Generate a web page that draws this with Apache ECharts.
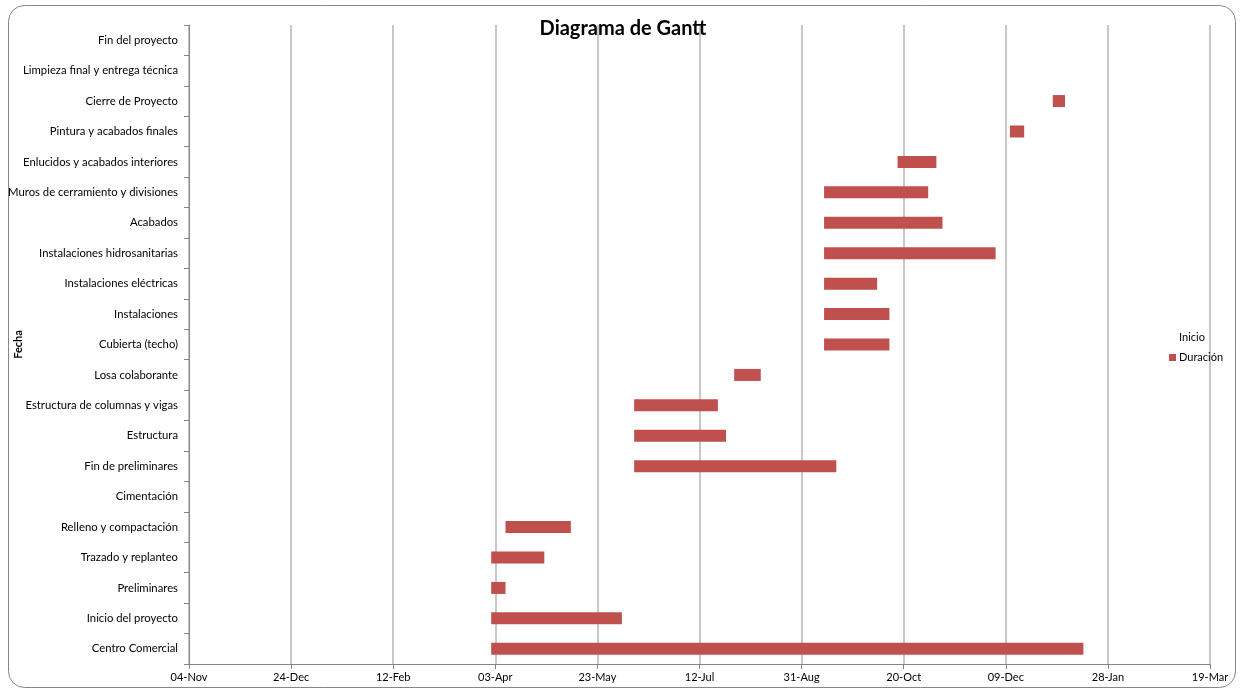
<!DOCTYPE html>
<html>
<head>
<meta charset="utf-8">
<title>Diagrama de Gantt</title>
<script src="https://cdn.jsdelivr.net/npm/echarts@6/dist/echarts.min.js"></script>
<style>
  html, body { margin: 0; padding: 0; background: #fff; }
  #chart { width: 1243px; height: 689px; }
</style>
</head>
<body>
<div id="chart"></div>
<script>
// Tasks, listed from the bottom row of the chart to the top row
const tasks = [
  'Centro Comercial',
  'Inicio del proyecto',
  'Preliminares',
  'Trazado y replanteo',
  'Relleno y compactación',
  'Cimentación',
  'Fin de preliminares',
  'Estructura',
  'Estructura de columnas y vigas',
  'Losa colaborante',
  'Cubierta (techo)',
  'Instalaciones',
  'Instalaciones eléctricas',
  'Instalaciones hidrosanitarias',
  'Acabados',
  'Muros de cerramiento y divisiones',
  'Enlucidos y acabados interiores',
  'Pintura y acabados finales',
  'Cierre de Proyecto',
  'Limpieza final y entrega técnica',
  'Fin del proyecto'
];

// Start date of each task (null = not scheduled)
const startDates = [
  '2014-04-01',
  '2014-04-01',
  '2014-04-01',
  '2014-04-01',
  '2014-04-08',
  null,
  '2014-06-10',
  '2014-06-10',
  '2014-06-10',
  '2014-07-29',
  '2014-09-11',
  '2014-09-11',
  '2014-09-11',
  '2014-09-11',
  '2014-09-11',
  '2014-09-11',
  '2014-10-17',
  '2014-12-11',
  '2015-01-01',
  null,
  null
];

// Duration of each task, in days
const durations = [
  290, 64, 7, 26, 32, null, 99, 45, 41, 13,
  32, 32, 26, 84, 58, 51, 19, 7, 6, null, null
];

// Date axis: origin and tick labels every 50 days
const axisOrigin = '2013-11-04';
const tickStep = 50;
const tickLabels = [
  '04-Nov', '24-Dec', '12-Feb', '03-Apr', '23-May', '12-Jul',
  '31-Aug', '20-Oct', '09-Dec', '28-Jan', '19-Mar'
];

const DAY = 86400000;
function toDays(iso) {
  const [y, m, d] = iso.split('-').map(Number);
  const [y0, m0, d0] = axisOrigin.split('-').map(Number);
  return Math.round((Date.UTC(y, m - 1, d) - Date.UTC(y0, m0 - 1, d0)) / DAY);
}

const startOffsets = startDates.map(s => (s === null ? null : toDays(s)));

const font = 'Lato, "Open Sans", "DejaVu Sans", sans-serif';
const chart = echarts.init(document.getElementById('chart'), null, { renderer: 'canvas' });

chart.setOption({
  animation: false,
  backgroundColor: '#ffffff',
  textStyle: { fontFamily: font },
  title: {
    text: 'Diagrama de Gantt',
    left: 618,
    top: 14,
    textAlign: 'center',
    textStyle: { fontFamily: font, fontSize: 20, fontWeight: 'bold', color: '#000' }
  },
  graphic: [{
    type: 'rect',
    shape: { x: 8.5, y: 5.5, width: 1227, height: 682, r: 16 },
    style: { fill: 'none', stroke: '#868686', lineWidth: 1 },
    silent: true,
    z: -1
  }],
  legend: {
    orient: 'vertical',
    left: 1164,
    top: 327,
    itemWidth: 7,
    itemHeight: 7,
    itemGap: 9,
    icon: 'rect',
    textStyle: { fontFamily: font, fontSize: 11, color: '#000', padding: [0, 0, 0, -2] },
    data: ['Inicio', 'Duración']
  },
  grid: { left: 189, right: 33, top: 25, bottom: 25, outerBoundsMode: 'none', containLabel: false },
  xAxis: {
    type: 'value',
    min: 0,
    max: tickStep * (tickLabels.length - 1),
    interval: tickStep,
    axisLine: { show: true, lineStyle: { color: '#868686', width: 1 } },
    axisTick: { show: true, length: 5, lineStyle: { color: '#868686' } },
    axisLabel: {
      fontFamily: font,
      fontSize: 11,
      color: '#000',
      margin: 8,
      formatter: v => tickLabels[Math.round(v / tickStep)] || ''
    },
    splitLine: { show: true, lineStyle: { color: '#b4b4b4', width: 1.5 } }
  },
  yAxis: {
    type: 'category',
    data: tasks,
    name: 'Fecha',
    nameLocation: 'middle',
    nameGap: 165,
    nameRotate: 90,
    nameMoveOverlap: false,
    nameTextStyle: { fontFamily: font, fontSize: 11, fontWeight: 'bold', color: '#000' },
    axisLine: { show: true, lineStyle: { color: '#868686', width: 1 } },
    axisTick: { show: true, length: 5, alignWithLabel: false, lineStyle: { color: '#868686' } },
    axisLabel: { fontFamily: font, fontSize: 11.3, color: '#000', margin: 11, interval: 0 },
    splitLine: { show: false }
  },
  series: [
    {
      name: 'Inicio',
      type: 'bar',
      stack: 'gantt',
      barWidth: 12,
      itemStyle: { color: 'rgba(0,0,0,0)' },
      emphasis: { disabled: true },
      data: startOffsets
    },
    {
      name: 'Duración',
      type: 'bar',
      stack: 'gantt',
      barWidth: 12,
      itemStyle: { color: '#c0504d' },
      data: durations
    }
  ]
});
</script>
</body>
</html>
